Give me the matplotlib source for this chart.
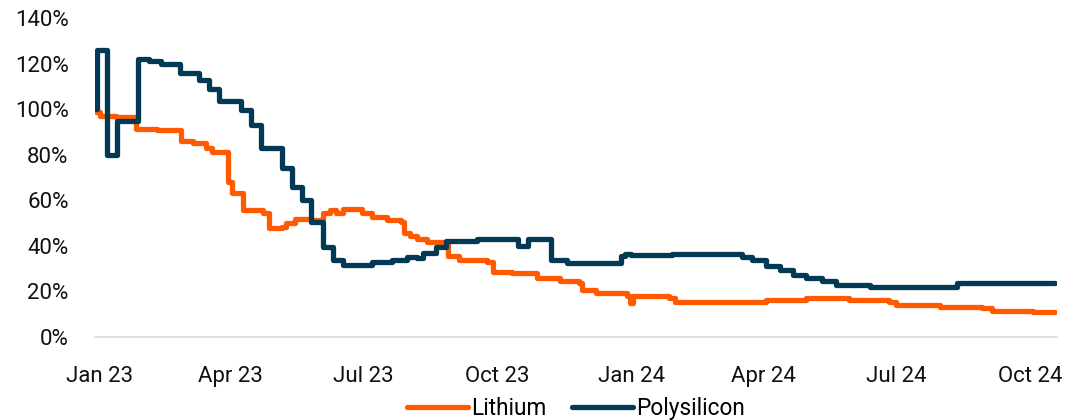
import pandas as pd
import matplotlib.pyplot as plt
import matplotlib.ticker as mticker

plt.rcParams['font.family'] = ['Roboto', 'DejaVu Sans']

# breakpoints of the two step series (date, % of start)
lithium_dates = ["2022-12-29", "2023-01-01", "2023-01-12", "2023-01-26", "2023-02-09",
                 "2023-02-26", "2023-03-06", "2023-03-15", "2023-03-19", "2023-03-30",
                 "2023-04-02", "2023-04-09", "2023-04-23", "2023-04-27", "2023-05-06",
                 "2023-05-09", "2023-05-15", "2023-05-27", "2023-06-03", "2023-06-08",
                 "2023-06-12", "2023-06-17", "2023-06-30", "2023-07-07", "2023-07-17",
                 "2023-07-27", "2023-07-29", "2023-08-02", "2023-08-07", "2023-08-14",
                 "2023-08-28", "2023-09-05", "2023-09-24", "2023-09-28", "2023-10-11",
                 "2023-10-28", "2023-11-13", "2023-11-26", "2023-11-28", "2023-12-08",
                 "2023-12-29", "2023-12-31", "2024-01-02", "2024-01-27", "2024-01-31",
                 "2024-04-03", "2024-04-30", "2024-05-30", "2024-06-26", "2024-07-01",
                 "2024-07-31", "2024-08-29", "2024-09-05", "2024-10-03", "2024-10-18"]
lithium_vals = [98.7, 97, 96.4, 91.5, 91,
                86, 85, 83, 81, 68,
                63, 55.7, 54.4, 48, 48.5,
                50, 51.7, 51.3, 54.4, 55.7,
                54.4, 56, 54.4, 52.7, 51.3,
                50.5, 45.6, 44.3, 43, 41.6,
                35.5, 34, 33, 28.6, 28,
                25.8, 24.6, 23.7, 20.6, 19.3,
                18, 15, 18, 17, 15.4,
                16.2, 17, 16.2, 15.4, 14,
                13.2, 12.7, 11.4, 11, 11]

poly_dates = ["2022-12-29", "2022-12-30", "2023-01-06", "2023-01-13", "2023-01-27",
              "2023-02-04", "2023-02-12", "2023-02-25", "2023-03-10", "2023-03-17",
              "2023-03-24", "2023-04-08", "2023-04-15", "2023-04-22", "2023-05-06",
              "2023-05-13", "2023-05-20", "2023-05-26", "2023-06-03", "2023-06-10",
              "2023-06-17", "2023-07-07", "2023-07-21", "2023-07-31", "2023-08-07",
              "2023-08-11", "2023-08-20", "2023-08-27", "2023-09-17", "2023-10-15",
              "2023-10-22", "2023-11-07", "2023-11-18", "2023-12-25", "2023-12-28",
              "2024-01-01", "2024-01-29", "2024-03-17", "2024-03-24", "2024-04-03",
              "2024-04-12", "2024-04-21", "2024-04-30", "2024-05-11", "2024-05-21",
              "2024-06-13", "2024-08-12", "2024-10-18"]
poly_vals = [100, 126, 80, 95, 122,
             121, 120, 116, 113, 109,
             103.5, 99.5, 93, 83, 74,
             66, 60, 50.5, 39.5, 34,
             31.6, 33, 34, 35, 34.5,
             37, 39.5, 42, 43, 40,
             43, 34, 32.5, 35.5, 36.5,
             36, 36.4, 35, 33.8, 31,
             29.4, 27, 26, 24.6, 22.8,
             22, 23.6, 23.6]

tick_dates = ["2023-01-01", "2023-04-01", "2023-07-01", "2023-10-01",
              "2024-01-01", "2024-04-01", "2024-07-01", "2024-10-01"]
tick_labels = ["Jan 23", "Apr 23", "Jul 23", "Oct 23", "Jan 24", "Apr 24", "Jul 24", "Oct 24"]

fig = plt.figure(figsize=(10.73, 4.2), dpi=100)
ax = fig.add_axes([0.0885, 0.1976, 0.8965, 0.7594])

ax.plot(pd.to_datetime(lithium_dates), lithium_vals, drawstyle='steps-post',
        color='#FF5A00', linewidth=3.8, label='Lithium',
        solid_capstyle='round', solid_joinstyle='round')
ax.plot(pd.to_datetime(poly_dates), poly_vals, drawstyle='steps-post',
        color='#023A56', linewidth=3.8, label='Polysilicon',
        solid_capstyle='round', solid_joinstyle='round')

ax.set_ylim(0, 140)
ax.set_xlim(pd.Timestamp("2022-12-28 14:00"), pd.Timestamp("2024-10-19 14:00"))
ax.yaxis.set_major_locator(mticker.MultipleLocator(20))
ax.yaxis.set_major_formatter(mticker.FuncFormatter(lambda v, p: f"{v:.0f}%"))
ax.set_xticks(pd.to_datetime(tick_dates))
ax.set_xticklabels(tick_labels)

ax.tick_params(axis='both', length=0, labelsize=16, colors='#111111')
ax.tick_params(axis='x', pad=21)
ax.tick_params(axis='y', pad=19)
for s in ['top', 'right', 'left']:
    ax.spines[s].set_visible(False)
ax.spines['bottom'].set_color('#D9D9D9')
ax.spines['bottom'].set_linewidth(1.2)

ax.legend(loc='center', bbox_to_anchor=(0.5, -0.225), ncol=2, frameon=False,
          fontsize=16.3, handlelength=2.7, handletextpad=0.15, columnspacing=1.1)

fig.savefig('out.png', dpi=100)
